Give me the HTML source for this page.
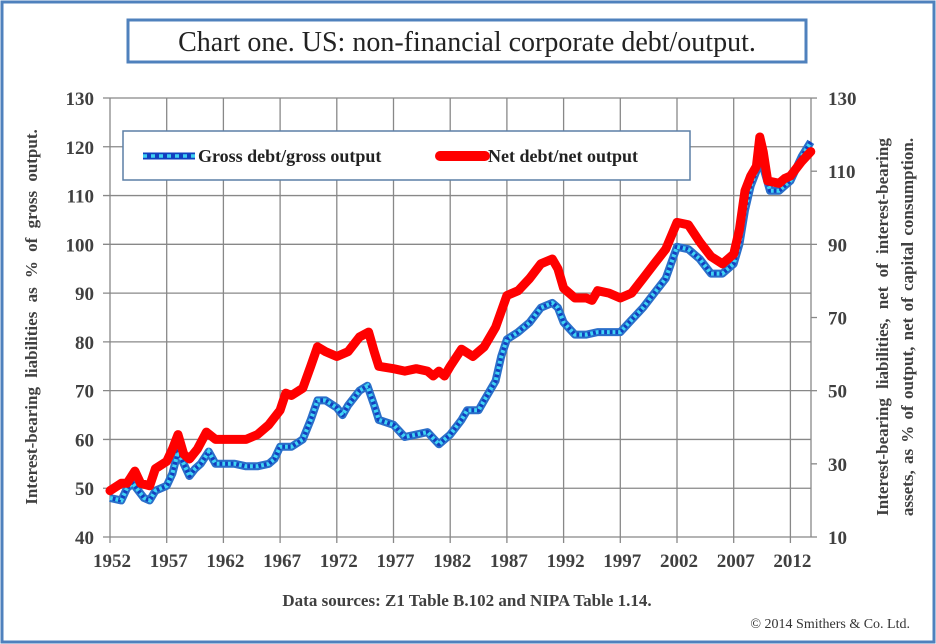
<!DOCTYPE html>
<html><head><meta charset="utf-8"><style>
body{margin:0;background:#fff}
svg{display:block}
text{font-family:"Liberation Serif",serif;font-weight:bold;fill:#404040}
</style></head><body>
<svg id="s" width="936" height="644" viewBox="0 0 936 644" xmlns="http://www.w3.org/2000/svg">
<rect x="2" y="2" width="932" height="640" fill="#fff" stroke="#4f81bd" stroke-width="3"/>
<rect x="128" y="20" width="678" height="42" fill="#fff" stroke="#4f81bd" stroke-width="3"/>
<text x="467" y="51" font-size="28" text-anchor="middle" style="fill:#222;font-weight:normal;font-family:'Liberation Serif',serif">Chart one. US: non-financial corporate debt/output.</text>
<g id="grid" stroke="#888" stroke-width="1.3"></g>
<g id="lab" font-size="19"></g>
<g id="series"></g>
<rect x="123" y="131" width="567" height="49" fill="#fff" stroke="#5b7fa6" stroke-width="1.5"/>
<line x1="143" y1="156" x2="195" y2="156" stroke="#1240c0" stroke-width="7"/>
<line x1="143" y1="156" x2="195" y2="156" stroke="#3fd0f0" stroke-width="3.5" stroke-dasharray="4 4"/>
<text x="198" y="162" font-size="18" style="fill:#222">Gross debt/gross output</text>
<line x1="440" y1="156" x2="485" y2="156" stroke="#ff0000" stroke-width="10" stroke-linecap="round"/>
<text x="488" y="162" font-size="18" style="fill:#222">Net debt/net output</text>
<text transform="translate(37,317) rotate(-90)" font-size="17" text-anchor="middle" word-spacing="5">Interest-bearing  liabilities  as % of gross output.</text>
<text transform="translate(888,327) rotate(-90)" font-size="17" text-anchor="middle" word-spacing="5">Interest-bearing  liabilities,  net of interest-bearing</text>
<text transform="translate(913,327) rotate(-90)" font-size="17" text-anchor="middle" word-spacing="2">assets, as % of output, net of capital consumption.</text>
<text x="467" y="606" font-size="17" text-anchor="middle">Data sources: Z1 Table B.102 and NIPA Table 1.14.</text>
<text x="910" y="628" font-size="14" text-anchor="end" style="fill:#333;font-weight:normal">© 2014 Smithers &amp; Co. Ltd.</text>
</svg>
<script>
const NS="http://www.w3.org/2000/svg";
const X=y=>110+(y-1952)*11.34, Y=v=>537-(v-40)*4.878;
function el(p,t,a,txt){const e=document.createElementNS(NS,t);for(const k in a)e.setAttribute(k,a[k]);if(txt!==undefined)e.textContent=txt;document.getElementById(p).appendChild(e);return e;}
for(let v=40;v<=130;v+=10){el("grid","line",{"x1":103,"x2":811,"y1":Y(v),"y2":Y(v)});el("lab","text",{"x":94,"y":Y(v)+7,"text-anchor":"end"},v);}
for(let y=1952;y<=2012;y+=5){el("grid","line",{"x1":X(y),"x2":X(y),"y1":98,"y2":543});el("lab","text",{"x":X(y)+2,"y":567,"text-anchor":"middle"},y);}
el("grid","line",{"x1":811,"x2":811,"y1":98,"y2":537});
for(let v=10;v<=130;v+=20){let yy=537-(v-10)*3.658;el("grid","line",{"x1":811,"x2":817,"y1":yy,"y2":yy});el("lab","text",{"x":828,"y":yy+7},v);}
const g=[[1952,48],[1953,47.5],[1953.5,50],[1954,51],[1955,48],[1955.5,47.5],[1956,49.5],[1957,50.5],[1957.5,53],[1958,57.5],[1958.7,54],[1959,52.5],[1959.5,54],[1960,55],[1960.7,57.5],[1961.3,55],[1962,55],[1963,55],[1964,54.5],[1965,54.5],[1966,55],[1966.5,56],[1967,58.5],[1968,58.5],[1969,60],[1969.7,64],[1970.3,68],[1971,68],[1972,66.5],[1972.5,65],[1973,67],[1974,70],[1974.7,71],[1975.3,67],[1975.7,64],[1977,63],[1978,60.5],[1979,61],[1980,61.5],[1981,59],[1982,61],[1983,64],[1983.5,66],[1984.5,66],[1985,68],[1986,72],[1986.5,77],[1987,80.5],[1988,82],[1989,84],[1990,87],[1991,88],[1991.5,87],[1992,84],[1993,81.5],[1994,81.5],[1995,82],[1996,82],[1997,82],[1998,84.5],[1999,87],[2000,90],[2001,93],[2002,99.5],[2003,99],[2004,97],[2005,94],[2006,94],[2007,96],[2007.5,100],[2008,107],[2008.5,112],[2009,115],[2009.4,118],[2009.7,115],[2010.2,111],[2011,111],[2011.5,112],[2012,113],[2013,118],[2013.8,121]];
const n=[[1952,49.5],[1953,51],[1953.5,51],[1954.2,53.5],[1954.7,51],[1955.5,50.5],[1956,54],[1957,55.5],[1957.5,58],[1958,61],[1958.5,57],[1959,56],[1959.7,58],[1960.5,61.5],[1961.3,60],[1962,60],[1963,60],[1964,60],[1965,61],[1966,63],[1967,66],[1967.5,69.5],[1968,69],[1969,70.5],[1969.7,75],[1970.3,79],[1971,78],[1972,77],[1973,78],[1974,81],[1974.8,82],[1975.3,78],[1975.7,75],[1977,74.5],[1978,74],[1979,74.5],[1980,74],[1980.5,73],[1981,74],[1981.5,73],[1982,75],[1983,78.5],[1984,77],[1985,79],[1986,83],[1987,89.5],[1988,90.5],[1989,93],[1990,96],[1991,97],[1991.5,95],[1992,91],[1993,89],[1994,89],[1994.5,88.5],[1995,90.5],[1996,90],[1997,89],[1998,90],[1999,93],[2000,96],[2001,99],[2002,104.5],[2003,104],[2004,100.5],[2005,97.5],[2006,96],[2007,98],[2007.5,103],[2008,111],[2008.5,114],[2009,116],[2009.3,122],[2009.6,119],[2010,113],[2011,112.5],[2011.5,113.5],[2012,114],[2013,117],[2013.8,119]];
const pts=a=>a.map(p=>X(p[0]).toFixed(1)+","+Y(p[1]).toFixed(1)).join(" ");
el("series","polyline",{"points":pts(g),"fill":"none","stroke":"#2a6fc9","stroke-width":8,"stroke-linejoin":"round"});
el("series","polyline",{"points":pts(g),"fill":"none","stroke":"#1240c0","stroke-width":4,"stroke-linejoin":"round"});
el("series","polyline",{"points":pts(g),"fill":"none","stroke":"#40d4f4","stroke-width":4,"stroke-dasharray":"2.8 2.8"});
el("series","polyline",{"points":pts(n),"fill":"none","stroke":"#ff0000","stroke-width":9,"stroke-linejoin":"round","stroke-linecap":"round"});
</script>
</body></html>
